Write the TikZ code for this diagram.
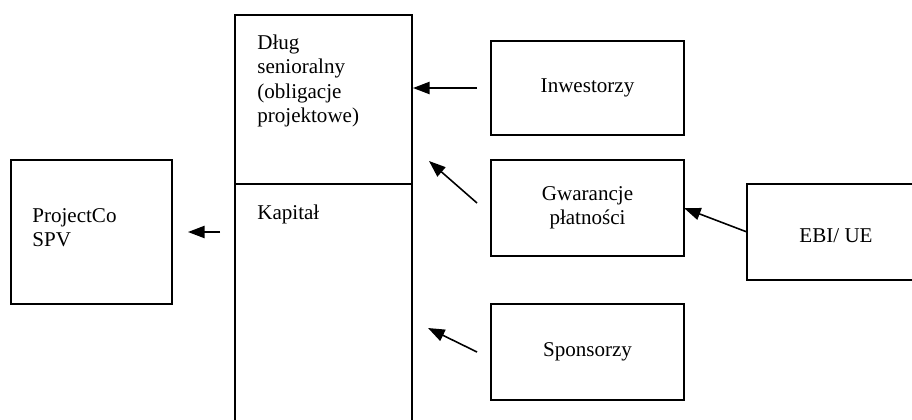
\documentclass[tikz,border=0pt]{standalone}
\usepackage{fontspec}
\setmainfont{Liberation Serif}
\usetikzlibrary{arrows.meta, positioning}

\tikzset{
  box/.style={draw, line width=1pt, inner sep=0pt, outer sep=0pt, align=center},
  lbl/.style={inner sep=0pt, anchor=north west, align=left},
  arr/.style={line width=0.9pt, -{Triangle[length=9.5pt,width=7pt]}}
}

\begin{document}
\begin{tikzpicture}[x=0.57pt, y=-0.57pt, font=\fontsize{12}{13.7}\selectfont]
\useasboundingbox (0,0) rectangle (912,419);
% left box
\node[box, minimum width=91.8pt, minimum height=82.1pt] (proj) at (91.5,232) {};
\node[lbl] (projlbl) at (32,208) {ProjectCo\\SPV};
% financing column
\node[box, minimum width=100.9pt, minimum height=96.3pt] (dlug) at (323.5,99.5) {};
\node[box, minimum width=100.9pt, minimum height=137.4pt] (kapital) at (323.5,304.5) {};
\node[lbl] (dluglbl) at (257,35) {Dług\\senioralny\\(obligacje\\projektowe)};
\node[lbl] (kaplbl) at (257,205) {Kapitał};
% sources
\node[box, minimum width=110pt, minimum height=53.6pt] (inw) at (587.5,88) {Inwestorzy};
\node[box, minimum width=110pt, minimum height=54.7pt] (gwar) at (587.5,208) {Gwarancje\\płatności};
\node[box, minimum width=110pt, minimum height=54.7pt] (spons) at (587.5,352) {Sponsorzy};
\node[box, minimum width=101.5pt, minimum height=54.7pt, text height=12.4pt, text depth=0pt] (ebi) at (836,232) {EBI/ UE};
% arrow ends
\coordinate (a1s) at (220,232);
\coordinate (a1e) at (188,232);
\coordinate (a2s) at (477,88);
\coordinate (a2e) at (413,88);
\coordinate (a3s) at (477,203);
\coordinate (a3e) at (429,161);
\coordinate (a5s) at (477,352);
\coordinate (a5e) at (428,328);
% arrows
\draw[arr] (a1s) -- (a1e);
\draw[arr] (a2s) -- (a2e);
\draw[arr] (a3s) -- (a3e);
\draw[arr] (ebi.west) -- (gwar.east);
\draw[arr] (a5s) -- (a5e);
\end{tikzpicture}
\end{document}
